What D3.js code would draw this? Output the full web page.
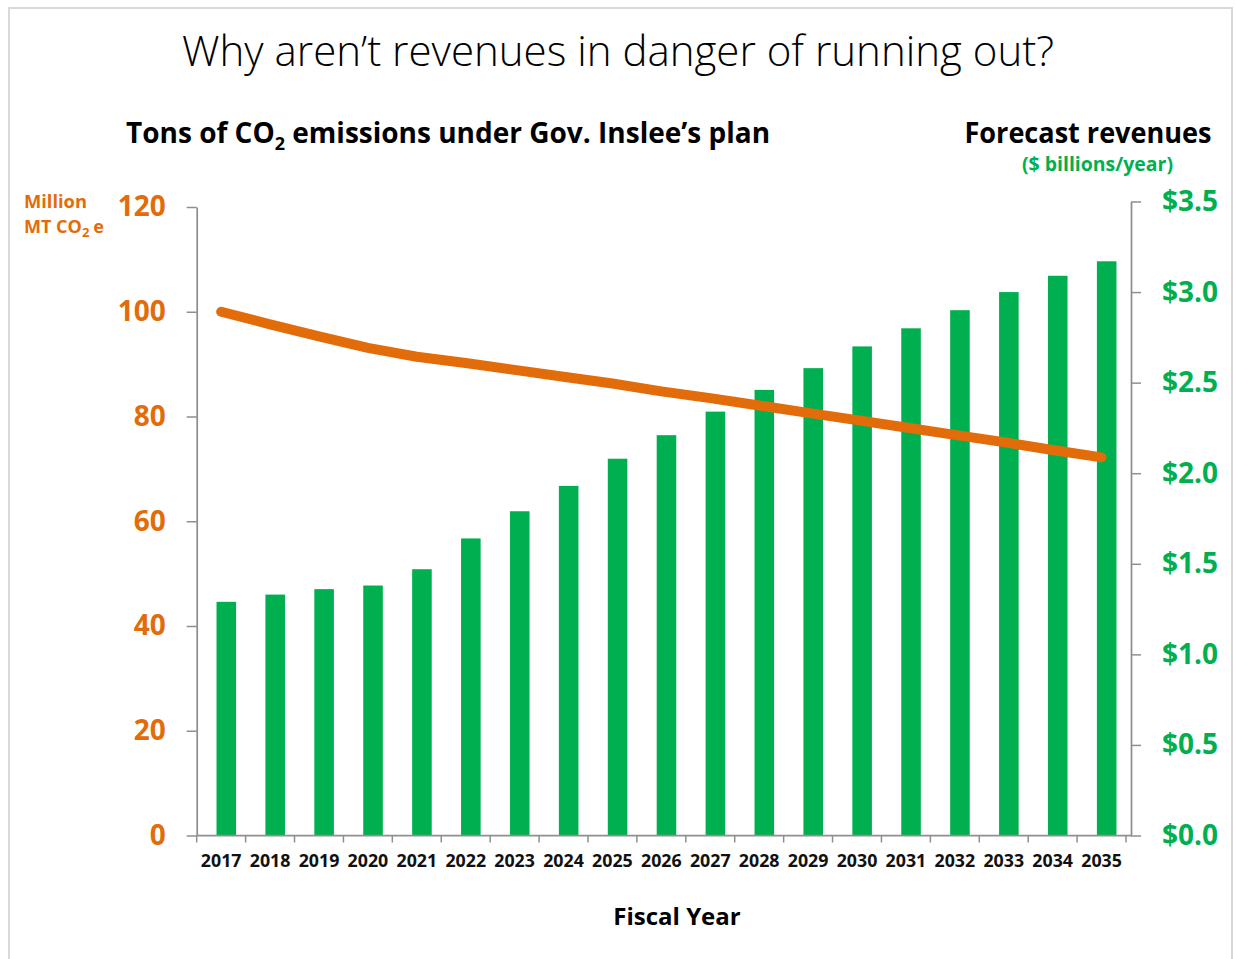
<!DOCTYPE html>
<html>
<head>
<meta charset="utf-8">
<script src="https://cdn.jsdelivr.net/npm/d3@7"></script>
<style>
  html, body { margin: 0; padding: 0; background: #fff; }
  svg { display: block; }
  text { font-family: "Open Sans", "Noto Sans", sans-serif; }
</style>
</head>
<body>
<svg id="chart" width="1235" height="959"></svg>
<script>
// ---- data ----
const years = ["2017","2018","2019","2020","2021","2022","2023","2024","2025","2026",
               "2027","2028","2029","2030","2031","2032","2033","2034","2035"];
const revenues = [1.29,1.33,1.36,1.38,1.47,1.64,1.79,1.93,2.08,2.21,
                  2.34,2.46,2.58,2.70,2.80,2.90,3.00,3.09,3.17];
const emissions = [100,97.6,95.3,93.1,91.4,90.2,88.9,87.6,86.3,84.8,
                   83.5,82.1,80.7,79.3,77.9,76.5,75.1,73.6,72.2];
const leftTicks = [0,20,40,60,80,100,120];
const rightTicks = [0,0.5,1.0,1.5,2.0,2.5,3.0,3.5];

// ---- styles ----
const ORANGE = "#E36C0A";
const GREEN = "#00B050";
const AXIS = "#8f8f8f";

const svg = d3.select("#chart");

// frame
svg.append("rect").attr("x", 9).attr("y", 8).attr("width", 1223).attr("height", 960)
  .attr("fill", "none").attr("stroke", "#d9d9d9").attr("stroke-width", 2);

// scales
const x = d3.scaleBand().domain(years).range([196.7, 1126]).padding(0);
const yL = d3.scaleLinear().domain([0, 120]).range([835.5, 207]);
const yR = d3.scaleLinear().domain([0, 3.5]).range([835.5, 201.5]);
const bw = x.bandwidth();

// bars
svg.append("g").selectAll("rect").data(years).join("rect")
  .attr("x", (d) => x(d) + bw * 0.405)
  .attr("width", bw * 0.4)
  .attr("y", (d, i) => yR(revenues[i]))
  .attr("height", (d, i) => yR(0) - yR(revenues[i]))
  .attr("fill", GREEN);

// axes
function styleAxis(g) {
  g.selectAll(".domain").attr("stroke", AXIS).attr("stroke-width", 1.75);
  g.selectAll(".tick line").attr("stroke", AXIS).attr("stroke-width", 1.5);
}

const gL = svg.append("g").attr("transform", "translate(196.7,0)")
  .call(d3.axisLeft(yL).tickValues(leftTicks).tickSize(10).tickSizeOuter(0).tickPadding(21));
styleAxis(gL);
gL.selectAll(".tick text").attr("fill", ORANGE).attr("font-size", 28)
  .attr("font-weight", 700).attr("font-family", "'Open Sans', sans-serif");

const gR = svg.append("g").attr("transform", "translate(1131,0)")
  .call(d3.axisRight(yR).tickValues(rightTicks).tickSize(10).tickSizeOuter(0).tickPadding(21)
    .tickFormat((d) => "$" + d3.format(".1f")(d)));
styleAxis(gR);
gR.selectAll(".tick text").attr("fill", GREEN).attr("font-size", 28)
  .attr("font-weight", 700).attr("font-family", "'Open Sans', sans-serif");

// x axis line
svg.append("line").attr("x1", 196.7).attr("x2", 1131).attr("y1", 835.5).attr("y2", 835.5)
  .attr("stroke", AXIS).attr("stroke-width", 1.75);
// boundary ticks
const bounds = years.map((d) => x(d)).concat([x(years[years.length - 1]) + bw]);
svg.append("g").selectAll("line").data(bounds).join("line")
  .attr("x1", (d) => d).attr("x2", (d) => d).attr("y1", 835.5).attr("y2", 842.5)
  .attr("stroke", AXIS).attr("stroke-width", 1.5);

// x labels
const gX = svg.append("g").attr("transform", "translate(0,835.5)")
  .call(d3.axisBottom(x).tickSize(0).tickPadding(19));
gX.select(".domain").remove();
gX.selectAll(".tick text").attr("fill", "#111").attr("font-size", 17.8)
  .attr("font-weight", 700).attr("font-family", "'Open Sans', sans-serif");

// emissions line
const line = d3.line()
  .x((d, i) => x(years[i]) + bw / 2)
  .y((d) => yL(d));
svg.append("path").datum(emissions).attr("d", line)
  .attr("fill", "none").attr("stroke", ORANGE).attr("stroke-width", 10)
  .attr("stroke-linecap", "round").attr("stroke-linejoin", "round");

// title
svg.append("text").attr("x", 618).attr("y", 66).attr("text-anchor", "middle")
  .attr("font-size", 42).attr("font-weight", 300).attr("fill", "#000")
  .attr("textLength", 872).attr("lengthAdjust", "spacingAndGlyphs")
  .text("Why aren\u2019t revenues in danger of running out?");

// left subtitle
const st = svg.append("text").attr("x", 126).attr("y", 143)
  .attr("font-size", 28).attr("font-weight", 700).attr("fill", "#000");
st.append("tspan").text("Tons of CO");
st.append("tspan").attr("font-size", 18).attr("dy", 7).text("2");
st.append("tspan").attr("dy", -7).text(" emissions under Gov. Inslee\u2019s plan");

// right subtitle
svg.append("text").attr("x", 1088).attr("y", 143).attr("text-anchor", "middle")
  .attr("font-size", 28).attr("font-weight", 700).attr("fill", "#000")
  .attr("textLength", 247).attr("lengthAdjust", "spacingAndGlyphs")
  .text("Forecast revenues");
svg.append("text").attr("x", 1097.5).attr("y", 171).attr("text-anchor", "middle")
  .attr("font-size", 19).attr("font-weight", 700).attr("fill", GREEN)
  .attr("textLength", 151).attr("lengthAdjust", "spacingAndGlyphs")
  .text("($ billions/year)");

// left unit label
svg.append("text").attr("x", 24).attr("y", 208).attr("font-size", 18)
  .attr("font-weight", 700).attr("fill", ORANGE)
  .attr("textLength", 63).attr("lengthAdjust", "spacingAndGlyphs")
  .text("Million");
const u = svg.append("text").attr("x", 24).attr("y", 233).attr("font-size", 18)
  .attr("font-weight", 700).attr("fill", ORANGE);
u.append("tspan").text("MT CO");
u.append("tspan").attr("font-size", 13).attr("dy", 4).text("2");
u.append("tspan").attr("dy", -4).attr("dx", 4).text("e");

// x axis title
svg.append("text").attr("x", 677).attr("y", 925).attr("text-anchor", "middle")
  .attr("font-size", 24).attr("font-weight", 700).attr("fill", "#000")
  .text("Fiscal Year");
</script>
</body>
</html>
